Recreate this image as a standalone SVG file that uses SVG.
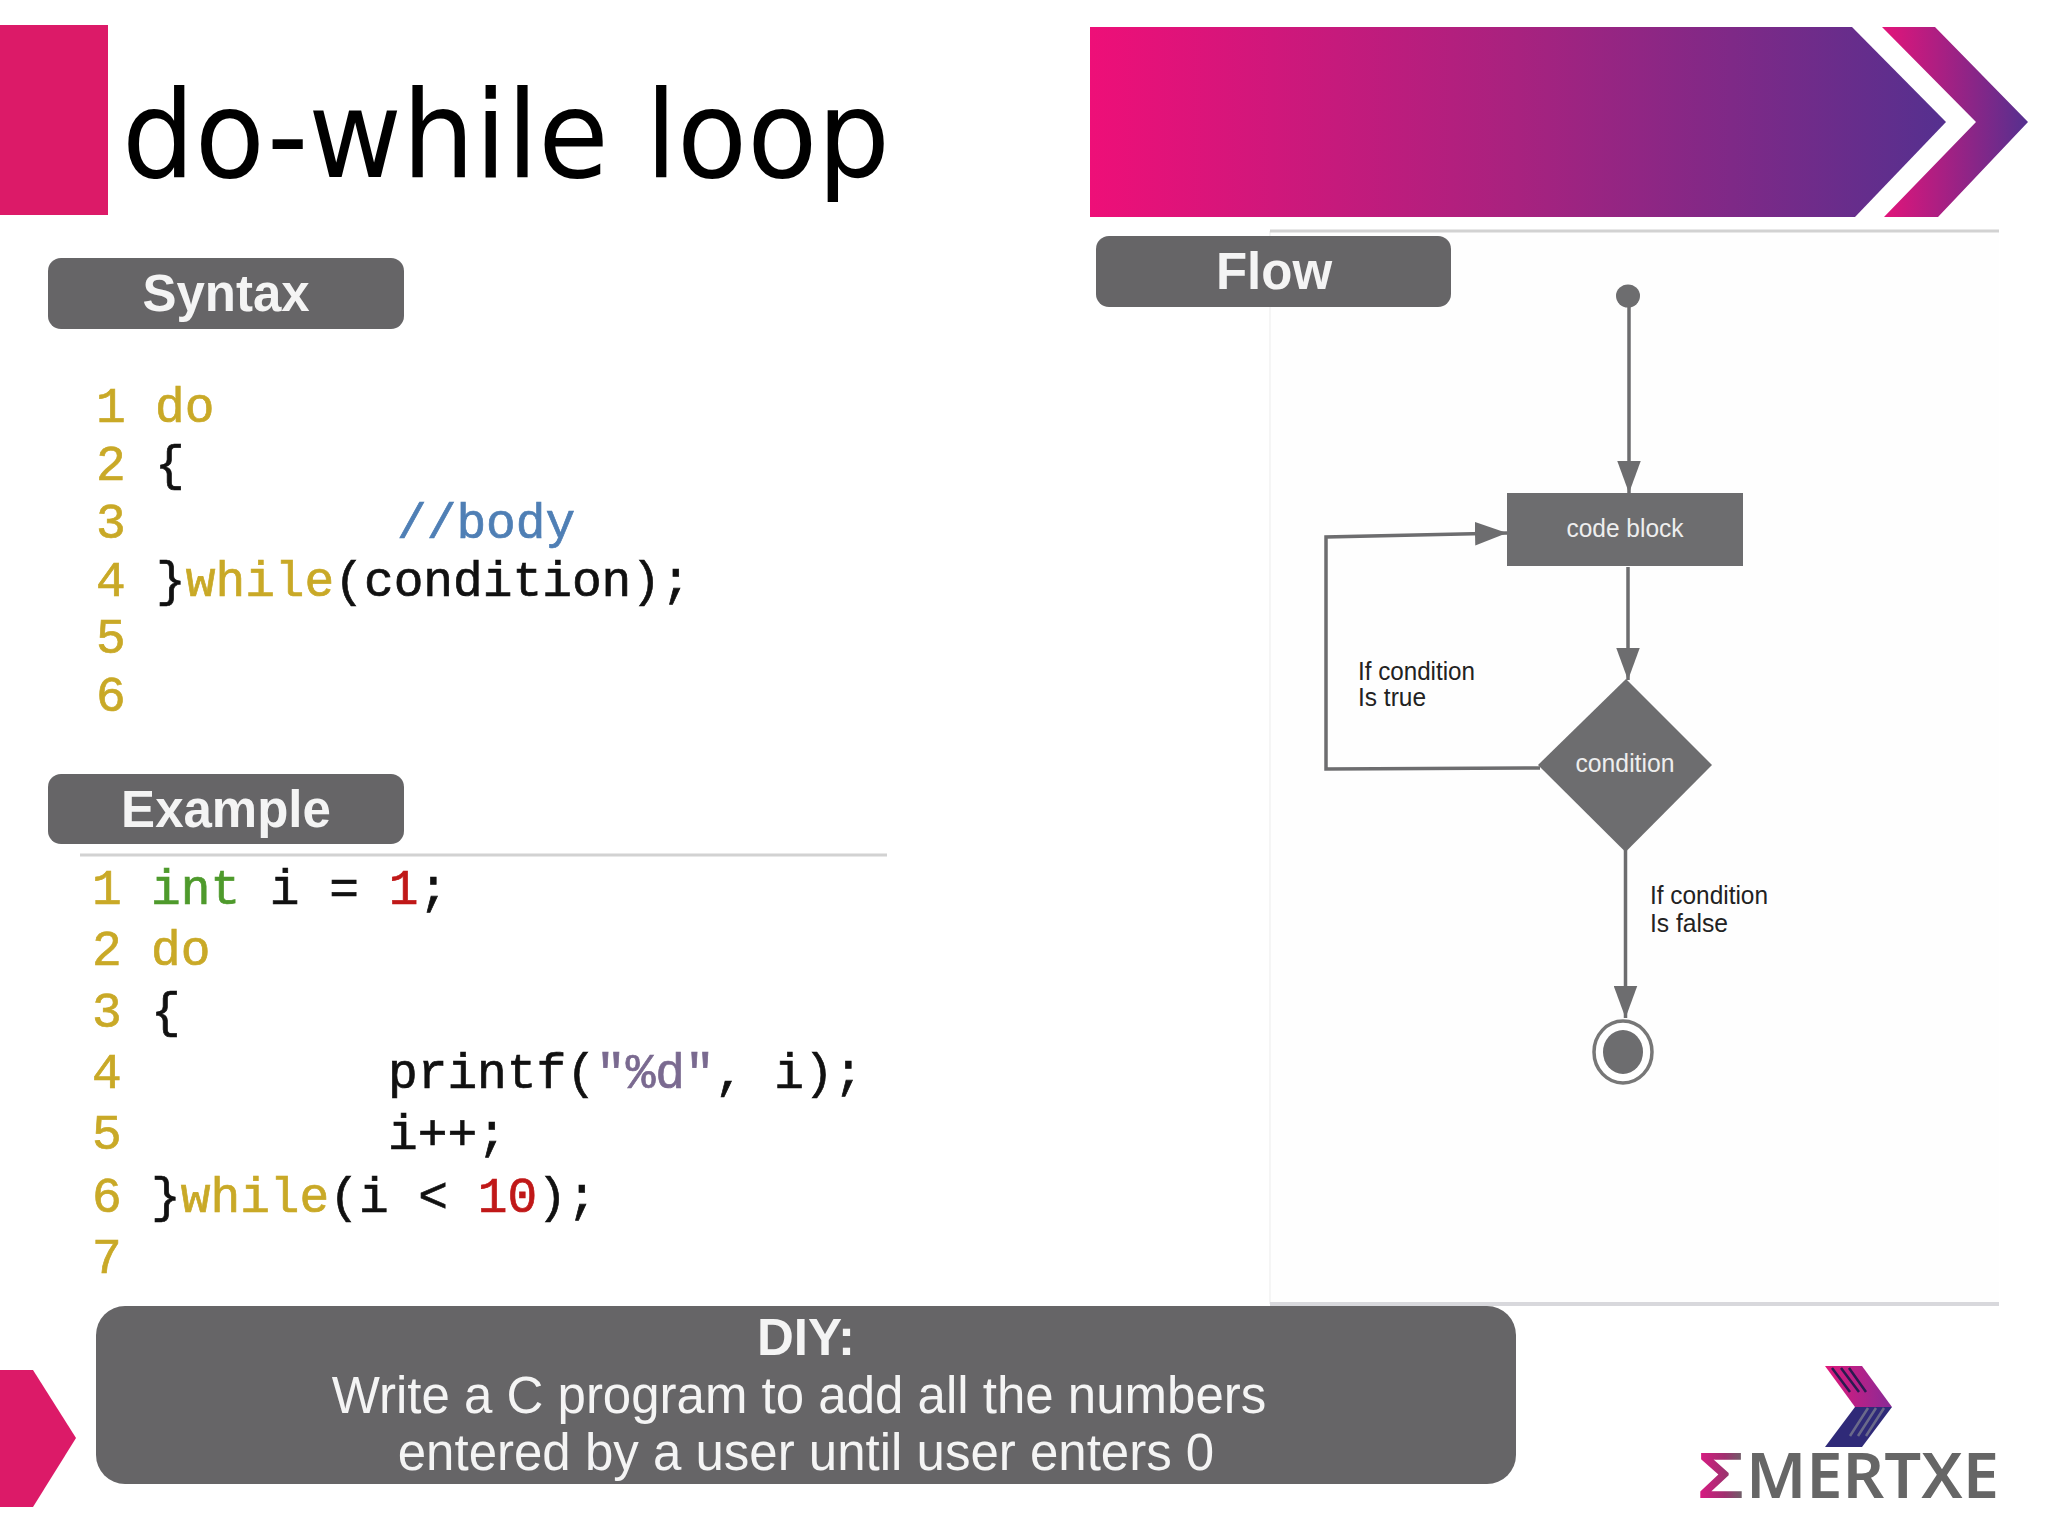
<svg xmlns="http://www.w3.org/2000/svg" width="2048" height="1536" viewBox="0 0 2048 1536">
<defs>
<linearGradient id="bannerGrad" gradientUnits="userSpaceOnUse" x1="1090" y1="0" x2="1946" y2="0"><stop offset="0" stop-color="#ee0f78"/><stop offset="0.5" stop-color="#a8227f"/><stop offset="1" stop-color="#55308f"/></linearGradient>
<linearGradient id="chevGrad" gradientUnits="userSpaceOnUse" x1="1882" y1="0" x2="2028" y2="0"><stop offset="0" stop-color="#e3147a"/><stop offset="1" stop-color="#55308f"/></linearGradient>
<linearGradient id="logoGrad" gradientUnits="userSpaceOnUse" x1="1825" y1="0" x2="1891" y2="0"><stop offset="0" stop-color="#e0187a"/><stop offset="1" stop-color="#8a2a96"/></linearGradient>
<linearGradient id="sigmaGrad" gradientUnits="userSpaceOnUse" x1="1700" y1="0" x2="1745" y2="0"><stop offset="0" stop-color="#d81b82"/><stop offset="0.55" stop-color="#a0306f"/><stop offset="1" stop-color="#666"/></linearGradient>
<marker id="arrow" markerUnits="userSpaceOnUse" markerWidth="32" markerHeight="24" viewBox="0 0 30 22" refX="30" refY="11" orient="auto"><path d="M0 0L30 11L0 22Z" fill="#6d6d6f"/></marker>
</defs>
<style>
text{white-space:pre}
.lbl{fill:#f4f4f4;font:bold 51px "Liberation Sans",Arial,sans-serif;text-anchor:middle}
.box{fill:#666567}
.code{font:49.5px "Liberation Mono","Courier New",monospace;fill:#111;stroke:#111;stroke-width:.7}
.num{fill:#c9a927;stroke:#c9a927}
.kw{fill:#c9a927;stroke:#c9a927}
.cm{fill:#4f7fb5;stroke:#4f7fb5}
.ty{fill:#4e9a2c;stroke:#4e9a2c}
.nb{fill:#c01818;stroke:#c01818}
.st{fill:#7a6a90;stroke:#7a6a90}
.fl{fill:#6d6d6f}
.ft{font:26px "Liberation Sans",Arial,sans-serif;fill:#222}
.fw{font:26px "Liberation Sans",Arial,sans-serif;fill:#eee;text-anchor:middle}
.diy{font:51px "Liberation Sans",Arial,sans-serif;fill:#f4f4f4;text-anchor:middle}
.diyb{font-weight:bold}
.rule{stroke:#d2d2d2;stroke-width:3;fill:none}
.conn{stroke:#6d6d6f;stroke-width:3.5;fill:none}
.logot{font-family:"Noto Sans",sans-serif;font-weight:600;font-size:63px}
</style>
<rect width="2048" height="1536" fill="#fff"/>

<g id="header">
<rect x="0" y="25" width="108" height="190" fill="#dc1a68"/>
<text x="122" y="177" font-family="'DejaVu Sans',sans-serif" font-size="121" fill="#000" textLength="768" lengthAdjust="spacingAndGlyphs">do-while loop</text>
<polygon points="1090,27 1852,27 1946,122 1855,217 1090,217" fill="url(#bannerGrad)"/>
<polygon points="1882,27 1935,27 2028,122 1938,217 1884,217 1976,122" fill="url(#chevGrad)"/>
</g>

<g id="flow-frame">
<rect x="1270" y="231" width="729" height="1073" fill="#fefefe"/>
<path d="M1270 231V1304" stroke="#f5f5f5" stroke-width="2" fill="none"/>
<path class="rule" d="M1270 231H1999"/>
<path d="M1270 1304H1999" stroke="#d8d8dc" stroke-width="4" fill="none"/>
</g>

<g id="syntax-label"><rect class="box" x="48" y="258" width="356" height="71" rx="13"/><text class="lbl" x="226" y="311">Syntax</text></g>
<g id="flow-label"><rect class="box" x="1096" y="236" width="355" height="71" rx="13"/><text class="lbl" x="1274" y="289">Flow</text></g>
<g id="example-label"><rect class="box" x="48" y="774" width="356" height="70" rx="13"/><text class="lbl" x="226" y="827">Example</text></g>

<g id="syntax-code">
<text x="96" y="422" class="code num">1</text><text x="155" y="422" class="code kw">do</text>
<text x="96" y="480" class="code num">2</text><text x="155" y="480" class="code">{</text>
<text x="96" y="538" class="code num">3</text><text x="397" y="538" class="code cm">//body</text>
<text x="96" y="596" class="code num">4</text><text x="156" y="596" class="code">}<tspan class="kw">while</tspan>(condition);</text>
<text x="96" y="653" class="code num">5</text>
<text x="96" y="711" class="code num">6</text>
</g>

<path id="example-rule" class="rule" d="M80 855H887"/>

<g id="example-code">
<text x="92" y="904" class="code num">1</text><text x="151" y="904" class="code"><tspan class="ty">int</tspan> i = <tspan class="nb">1</tspan>;</text>
<text x="92" y="965" class="code num">2</text><text x="151" y="965" class="code kw">do</text>
<text x="92" y="1027" class="code num">3</text><text x="151" y="1027" class="code">{</text>
<text x="92" y="1088" class="code num">4</text><text x="388" y="1088" class="code">printf(<tspan class="st">"%d"</tspan>, i);</text>
<text x="92" y="1149" class="code num">5</text><text x="388" y="1149" class="code">i++;</text>
<text x="92" y="1212" class="code num">6</text><text x="151" y="1212" class="code">}<tspan class="kw">while</tspan>(i &lt; <tspan class="nb">10</tspan>);</text>
<text x="92" y="1273" class="code num">7</text>
</g>

<g id="connectors">
<path class="conn" d="M1629 300V493" marker-end="url(#arrow)"/>
<path class="conn" d="M1628 567V680" marker-end="url(#arrow)"/>
<path class="conn" d="M1540 768L1326 769V537L1507 533" marker-end="url(#arrow)"/>
<path class="conn" d="M1625.5 850V1018" marker-end="url(#arrow)"/>
</g>

<g id="start"><ellipse class="fl" cx="1628" cy="296" rx="12" ry="11.5"/></g>
<g id="code-block"><rect class="fl" x="1507" y="493" width="236" height="73"/><text class="fw" x="1625" y="537" textLength="117" lengthAdjust="spacingAndGlyphs">code block</text></g>
<g id="condition"><polygon class="fl" points="1626,679 1712,765 1625.5,852 1538,765"/><text class="fw" x="1625" y="772" textLength="99" lengthAdjust="spacingAndGlyphs">condition</text></g>
<g id="end"><ellipse cx="1623" cy="1052" rx="29" ry="31" fill="#fff" stroke="#777" stroke-width="3.5"/><ellipse class="fl" cx="1623" cy="1052" rx="20" ry="22"/></g>
<g id="label-true"><text class="ft" x="1358" y="680" textLength="117" lengthAdjust="spacingAndGlyphs">If condition</text><text class="ft" x="1358" y="706" textLength="68" lengthAdjust="spacingAndGlyphs">Is true</text></g>
<g id="label-false"><text class="ft" x="1650" y="904" textLength="118" lengthAdjust="spacingAndGlyphs">If condition</text><text class="ft" x="1650" y="932" textLength="78" lengthAdjust="spacingAndGlyphs">Is false</text></g>

<g id="diy">
<polygon points="0,1370 33,1370 76,1438 33,1507 0,1507" fill="#dc1a68"/>
<rect class="box" x="96" y="1306" width="1420" height="178" rx="29"/>
<text class="diy diyb" x="806" y="1355">DIY:</text>
<text class="diy" x="799" y="1413">Write a C program to add all the numbers</text>
<text class="diy" x="806" y="1470">entered by a user until user enters 0</text>
</g>

<g id="logo">
<polygon points="1825,1366 1862,1366 1892,1407 1855,1407" fill="url(#logoGrad)"/>
<polygon points="1855,1407 1892,1407 1862,1447 1825,1447" fill="#2f2a78"/>
<path d="M1832 1368L1850 1392M1841 1368L1859 1392M1849 1368L1866 1392" stroke="#2a1a50" stroke-width="2.5" fill="none"/>
<path d="M1868 1408L1850 1436M1876 1408L1858 1436M1884 1408L1866 1436" stroke="#6a6a8a" stroke-width="2.5" fill="none"/>
<text class="logot" x="1698" y="1498" fill="url(#sigmaGrad)" textLength="46" lengthAdjust="spacingAndGlyphs">Σ</text>
<text class="logot" x="1746" y="1498" fill="#666" textLength="253" lengthAdjust="spacingAndGlyphs">MERTXE</text>
</g>
</svg>
